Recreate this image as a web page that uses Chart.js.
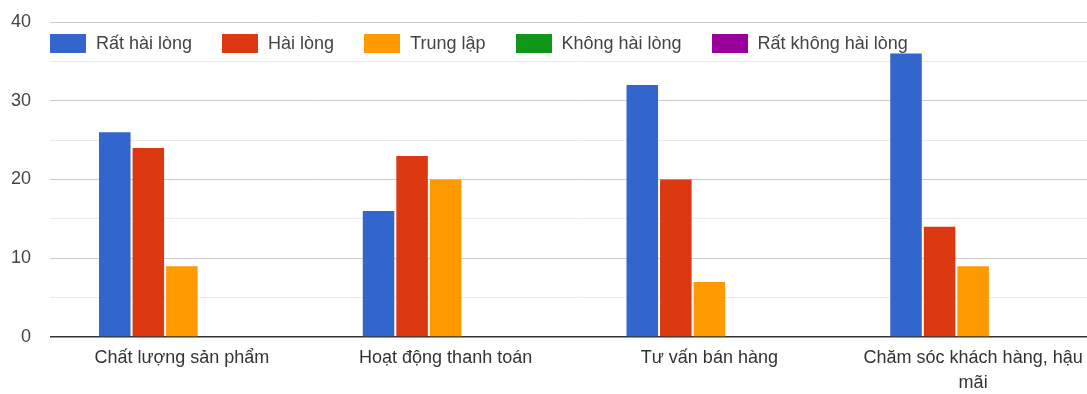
<!DOCTYPE html>
<html lang="vi">
<head>
<meta charset="utf-8">
<title>Mức độ hài lòng</title>
<script src="https://cdn.jsdelivr.net/npm/chart.js@4/dist/chart.umd.min.js"></script>
<style>
    html, body { margin: 0; padding: 0; background: #fff; overflow: hidden; }
    #wrap { position: relative; width: 1105px; height: 394px; }
    #legend {
        position: absolute; top: 34px; left: 50px;
        display: flex; align-items: center; height: 19px;
        font-family: "Liberation Sans", Arial, sans-serif; font-size: 18px; color: #444;
        white-space: nowrap;
    }
    .item { display: flex; align-items: center; margin-right: 30px; }
    .box { width: 36px; height: 19px; margin-right: 10px; }
</style>
</head>
<body>
<div id="wrap">
    <canvas id="chart"></canvas>
    <div id="legend"></div>
</div>
<script>
// Dữ liệu
const categories = [
    'Chất lượng sản phẩm',
    'Hoạt động thanh toán',
    'Tư vấn bán hàng',
    ['Chăm sóc khách hàng, hậu', 'mãi']
];
const seriesNames = ['Rất hài lòng', 'Hài lòng', 'Trung lập', 'Không hài lòng', 'Rất không hài lòng'];
const seriesColors = ['#3366CC', '#DC3912', '#FF9900', '#109618', '#990099'];
const ratHaiLong = [26, 16, 32, 36];
const haiLong = [24, 23, 20, 14];
const trungLap = [9, 20, 7, 9];
const khongHaiLong = [0, 0, 0, 0];
const ratKhongHaiLong = [0, 0, 0, 0];
const yTicks = [0, 10, 20, 30, 40];

const seriesValues = [ratHaiLong, haiLong, trungLap, khongHaiLong, ratKhongHaiLong];
const font = "'Liberation Sans', Arial, sans-serif";

// Chú giải (HTML) đặt bên trong vùng biểu đồ như bản gốc
const legend = document.getElementById('legend');
seriesNames.forEach(function(name, i) {
    const item = document.createElement('div');
    item.className = 'item';
    const box = document.createElement('span');
    box.className = 'box';
    box.style.background = seriesColors[i];
    const txt = document.createElement('span');
    txt.textContent = name;
    item.appendChild(box);
    item.appendChild(txt);
    legend.appendChild(item);
});

new Chart(document.getElementById('chart'), {
    type: 'bar',
    data: {
        labels: categories,
        datasets: seriesNames.map(function(name, i) {
            return {
                label: name,
                data: seriesValues[i],
                backgroundColor: seriesColors[i],
                borderWidth: 0,
                barPercentage: 0.94,
                categoryPercentage: 0.636
            };
        })
    },
    options: {
        responsive: true,
        maintainAspectRatio: false,
        animation: false,
        layout: { padding: { top: 22, left: 0, right: 0, bottom: 0 } },
        plugins: {
            legend: { display: false },
            tooltip: { enabled: false }
        },
        scales: {
            x: {
                afterFit: function(scale) { scale.height = 57; },
                grid: { display: false, drawTicks: false },
                border: { display: false },
                ticks: {
                    color: '#333',
                    padding: 8,
                    maxRotation: 0,
                    autoSkip: false,
                    font: { family: font, size: 18, lineHeight: 1.4 }
                }
            },
            y: {
                min: 0,
                max: 40,
                afterFit: function(scale) {
                    scale.width = 50;
                    scale.paddingTop = 0;
                    scale.paddingBottom = 0;
                },
                border: { display: false },
                grid: {
                    drawTicks: false,
                    color: function(ctx) {
                        const v = ctx.tick.value;
                        if (v === 0) return '#333';
                        return yTicks.includes(v) ? '#cccccc' : '#ebebeb';
                    },
                    lineWidth: function(ctx) { return ctx.tick.value === 0 ? 1.5 : 1; }
                },
                ticks: {
                    stepSize: 5,
                    padding: 19,
                    color: '#444',
                    font: { family: font, size: 18 },
                    callback: function(value) {
                        return yTicks.includes(value) ? value : '';
                    }
                }
            }
        }
    }
});
</script>
</body>
</html>
